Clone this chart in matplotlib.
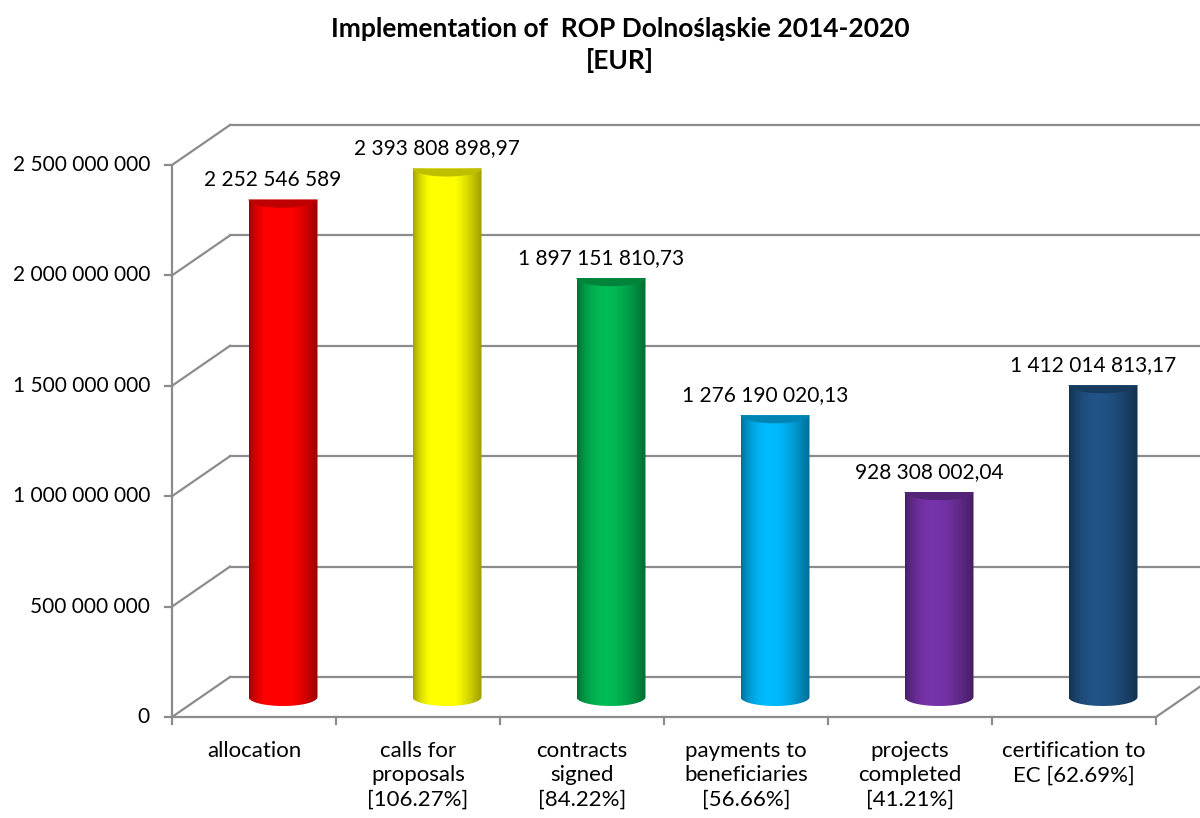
import matplotlib
matplotlib.use("Agg")
import matplotlib.pyplot as plt
from matplotlib.patches import PathPatch, Polygon
from matplotlib.path import Path
import numpy as np

plt.rcParams['font.family'] = ['Lato', 'DejaVu Sans']

title = "Implementation of  ROP Dolnośląskie 2014-2020\n[EUR]"
categories = [
    "allocation",
    "calls for\nproposals\n[106.27%]",
    "contracts\nsigned\n[84.22%]",
    "payments to\nbeneficiaries\n[56.66%]",
    "projects\ncompleted\n[41.21%]",
    "certification to\nEC [62.69%]",
]
values = [2252546589, 2393808898.97, 1897151810.73, 1276190020.13,
          928308002.04, 1412014813.17]
colors = ["#FF0000", "#FFFF00", "#00B050", "#00B0F0", "#7030A0", "#1F4E7E"]
yticks = [0, 500000000, 1000000000, 1500000000, 2000000000, 2500000000]


def fmt_value(v):
    if float(v).is_integer():
        return f"{int(v):,}".replace(",", " ")
    s = f"{v:,.2f}"
    whole, dec = s.split(".")
    return whole.replace(",", " ") + "," + dec


def shade(color, f):
    rgb = np.array(matplotlib.colors.to_rgb(color))
    return np.clip(rgb * f, 0, 1)


fig = plt.figure(figsize=(12, 8.18), dpi=100)
# axes box = front plane of the 3D chart
ax = fig.add_axes([172 / 1200, 101 / 818, 984 / 1200, 552 / 818])
ax.axis('off')

n = len(categories)
ymax = yticks[-1]
px_x = 984 / n            # pixels per category
px_y = 552 / ymax         # pixels per value unit
dx = 58 / px_x            # depth offset (data units)
dy = 40 / px_y
grid_c = "#8C8C8C"
lw = 1.6

# walls and floor
for v in yticks:
    ax.plot([0, dx], [v, v + dy], color=grid_c, lw=lw, clip_on=False, zorder=1)
    ax.plot([dx, n + dx + 1], [v + dy, v + dy], color=grid_c, lw=lw,
            clip_on=False, zorder=1)
    ax.plot([-7 / px_x, 0], [v, v], color=grid_c, lw=lw, clip_on=False, zorder=1)
    ax.text(-22 / px_x, v, fmt_value(v), ha='right', va='center',
            fontsize=15, color='black')
ax.plot([0, 0], [0, ymax], color=grid_c, lw=lw, clip_on=False, zorder=1)
ax.plot([0, n], [0, 0], color=grid_c, lw=lw, clip_on=False, zorder=1)
ax.plot([n, n + dx], [0, dy], color=grid_c, lw=lw, clip_on=False, zorder=1)
for i in range(n + 1):
    ax.plot([i, i], [0, -7 / px_y], color=grid_c, lw=lw, clip_on=False, zorder=1)

# cylinders
hw = 34.5 / px_x
eh = 9 / px_y
base = dy / 2
t = np.linspace(0, 1, 200)
profile = 0.62 + 0.45 * np.sin(np.pi * t ** 0.8)
for i, (v, c) in enumerate(zip(values, colors)):
    cx = i + 0.5 + dx / 2
    top = v + dy / 2
    arc_t = np.linspace(np.pi, 2 * np.pi, 60)
    arc = np.column_stack([cx + hw * np.cos(arc_t), base + eh * np.sin(arc_t)])
    verts = np.vstack([[cx - hw, top], [cx - hw, base], arc,
                       [cx + hw, base], [cx + hw, top], [cx - hw, top]])
    clip = PathPatch(Path(verts), facecolor='none', edgecolor='none')
    ax.add_patch(clip)
    grad = np.array([[shade(c, f) for f in profile]])
    im = ax.imshow(grad, extent=(cx - hw, cx + hw, base - eh, top),
                   aspect='auto', interpolation='bilinear', zorder=3)
    im.set_clip_path(clip)
    # top opening
    lens = np.column_stack([cx + hw * np.cos(arc_t), top + eh * 0.9 * np.sin(arc_t)])
    ax.add_patch(Polygon(lens, closed=True, facecolor=shade(c, 0.75),
                         edgecolor='none', zorder=4))
    bbox = None
    if i == 4:
        bbox = dict(facecolor='white', edgecolor='none', pad=2)
    ax.text(cx - 10 / px_x, top + 20 / px_y, fmt_value(v), ha='center',
            va='center', fontsize=15, color='black', zorder=5, bbox=bbox)

for i, lab in enumerate(categories):
    ax.text(i + 0.5, -24 / px_y, lab, ha='center', va='top', fontsize=16,
            linespacing=1.28, color='black')

fig.text(620 / 1200, 1 - 45 / 818, title, ha='center', va='center',
         fontsize=19, fontweight='bold', linespacing=1.32)

ax.set_xlim(0, n)
ax.set_ylim(0, ymax)
fig.savefig("out.png", dpi=100)
